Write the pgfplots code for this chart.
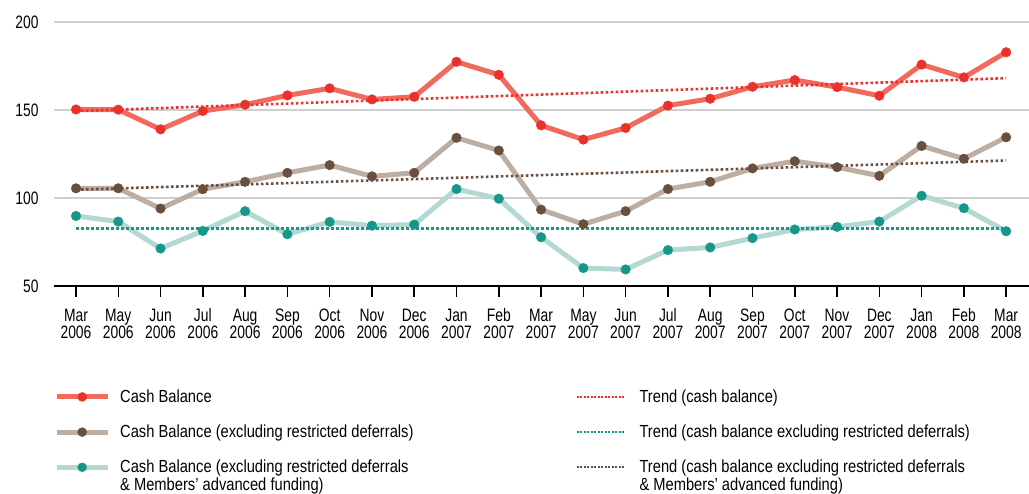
\documentclass[border=0pt]{standalone}
\usepackage{fontspec}
\setmainfont[FakeStretch=0.8]{Liberation Sans}
\newfontfamily\tickfont[FakeStretch=0.77]{Liberation Sans}
\newfontfamily\legfont[FakeStretch=0.84]{Liberation Sans}
\usepackage{pgfplots}
\usepackage{pgfplotstable}
\pgfplotsset{compat=1.18}
\definecolor{redline}{HTML}{F26A5E}
\definecolor{redmark}{HTML}{E8322A}
\definecolor{brline}{HTML}{BDAEA4}
\definecolor{brmark}{HTML}{6B4F3E}
\definecolor{tlline}{HTML}{B4D9D2}
\definecolor{tlmark}{HTML}{15978A}
\definecolor{gridc}{HTML}{CFCFCF}
\newcommand\xl[2]{\rule[-4.4pt]{0pt}{17.4pt}#1\\\rule{0pt}{13pt}#2}
\pgfplotsset{
 serleg/.style={legend image code/.code={\draw[mark repeat=2,mark phase=2,##1] plot coordinates {(0pt,0pt) (25.5pt,0pt) (51pt,0pt)};}},
 trdleg/.style={legend image code/.code={\draw[##1] (0pt,0pt) -- (47pt,0pt);}},
}
\pgfplotstableread{
x red brown teal
0 150.3 105.5 89.8
1 150.2 105.5 86.6
2 139.0 94.0 71.3
3 149.4 105.0 81.3
4 153.0 109.2 92.5
5 158.3 114.3 79.4
6 162.3 118.7 86.4
7 156.0 112.3 84.3
8 157.5 114.3 84.9
9 177.4 134.2 105.1
10 170.0 127.0 99.6
11 141.3 93.4 77.7
12 133.2 85.1 60.2
13 139.8 92.5 59.4
14 152.5 105.1 70.4
15 156.4 109.2 71.9
16 163.2 116.8 77.2
17 167.0 120.9 82.1
18 163.0 117.5 83.6
19 158.1 112.6 86.6
20 175.8 129.6 101.3
21 168.5 122.3 94.2
22 182.8 134.5 81.1
}\datatable
\pgfplotstableread{
x tred tbrown tteal
0 149.4 104.7 82.8
22 168.1 121.3 82.8
}\trendtable
\begin{document}
\begin{tikzpicture}
\path[use as bounding box] (-54pt,-208pt) rectangle (975pt,286pt);
\begin{axis}[
 at={(0pt,0pt)}, anchor=south west, scale only axis,
 width=975pt, height=264pt,
 xmin=-0.52, xmax=22.54, ymin=50, ymax=200,
 axis x line*=bottom, axis y line*=left,
 y axis line style={draw=none},
 x axis line style={line width=2.5pt, black},
 xtick={0,...,22},
 xticklabels={{\xl{Mar}{2006}},{\xl{May}{2006}},{\xl{Jun}{2006}},{\xl{Jul}{2006}},{\xl{Aug}{2006}},{\xl{Sep}{2006}},{\xl{Oct}{2006}},{\xl{Nov}{2006}},{\xl{Dec}{2006}},{\xl{Jan}{2007}},{\xl{Feb}{2007}},{\xl{Mar}{2007}},{\xl{May}{2007}},{\xl{Jun}{2007}},{\xl{Jul}{2007}},{\xl{Aug}{2007}},{\xl{Sep}{2007}},{\xl{Oct}{2007}},{\xl{Nov}{2007}},{\xl{Dec}{2007}},{\xl{Jan}{2008}},{\xl{Feb}{2008}},{\xl{Mar}{2008}}},
 xticklabel style={align=center, yshift=-8pt},
 ytick={50,100,150,200},
 yticklabel style={xshift=-1pt},
 tick align=outside,
 major tick length=11pt,
 xtick style={black, line width=1.5pt},
 ytick style={draw=none},
 ymajorgrids,
 grid style={gridc, line width=1.5pt},
 tick label style={font=\tickfont\fontsize{18}{17.4}\selectfont},
 /pgf/number format/assume math mode=true,
 clip=false,
 legend columns=2,
 legend style={at={(axis description cs:0,-0.385)}, anchor=north west, draw=none, fill=none,
   font=\legfont\fontsize{17.5}{17.7}\selectfont, cells={anchor=west},
   /tikz/column 1/.style={column sep=8pt},
   /tikz/column 2/.style={column sep=160pt},
   /tikz/column 3/.style={column sep=13pt},
   row sep=17pt, inner xsep=0pt, inner ysep=0pt},
]
% lines
\addplot[tlline, line width=5pt, line join=round, forget plot] table[x=x,y=teal]{\datatable};
\addplot[brline, line width=5pt, line join=round, forget plot] table[x=x,y=brown]{\datatable};
\addplot[redline, line width=5pt, line join=round, forget plot] table[x=x,y=red]{\datatable};
% trends
\addplot[tlmark, line width=2.6pt, dash pattern=on 2.6pt off 2.4pt, forget plot] table[x=x,y=tteal]{\trendtable};
\addplot[brmark, line width=2.6pt, dash pattern=on 2.6pt off 2.4pt, forget plot] table[x=x,y=tbrown]{\trendtable};
\addplot[redmark, line width=2.6pt, dash pattern=on 2.6pt off 2.4pt, forget plot] table[x=x,y=tred]{\trendtable};
% markers
\addplot[only marks, mark=*, mark size=4.8pt, mark options={fill=tlmark, draw=tlmark, line width=0.4pt}, forget plot] table[x=x,y=teal]{\datatable};
\addplot[only marks, mark=*, mark size=4.8pt, mark options={fill=brmark, draw=brmark, line width=0.4pt}, forget plot] table[x=x,y=brown]{\datatable};
\addplot[only marks, mark=*, mark size=4.8pt, mark options={fill=redmark, draw=redmark, line width=0.4pt}, forget plot] table[x=x,y=red]{\datatable};
% legend
\addlegendimage{serleg, redline, line width=5pt, mark=*, mark size=4.5pt, mark options={fill=redmark, draw=redmark, line width=0.4pt}}
\addlegendentry{Cash Balance}
\addlegendimage{trdleg, redmark, line width=2pt, dash pattern=on 2pt off 1.5pt}
\addlegendentry{Trend (cash balance)}
\addlegendimage{serleg, brline, line width=5pt, mark=*, mark size=4.5pt, mark options={fill=brmark, draw=brmark, line width=0.4pt}}
\addlegendentry{Cash Balance (excluding restricted deferrals)}
\addlegendimage{trdleg, tlmark, line width=2pt, dash pattern=on 2pt off 1.5pt}
\addlegendentry{Trend (cash balance excluding restricted deferrals)}
\addlegendimage{serleg, tlline, line width=5pt, mark=*, mark size=4.5pt, mark options={fill=tlmark, draw=tlmark, line width=0.4pt}}
\addlegendentry{\raisebox{0pt}[\height][4pt]{\vtop{\hbox{Cash Balance (excluding restricted deferrals}\hbox{\& Members’ advanced funding)}}}}
\addlegendimage{trdleg, brmark, line width=2pt, dash pattern=on 2pt off 1.5pt}
\addlegendentry{\raisebox{0pt}[\height][4pt]{\vtop{\hbox{Trend (cash balance excluding restricted deferrals}\hbox{\& Members’ advanced funding)}}}}
\end{axis}
\end{tikzpicture}
\end{document}
